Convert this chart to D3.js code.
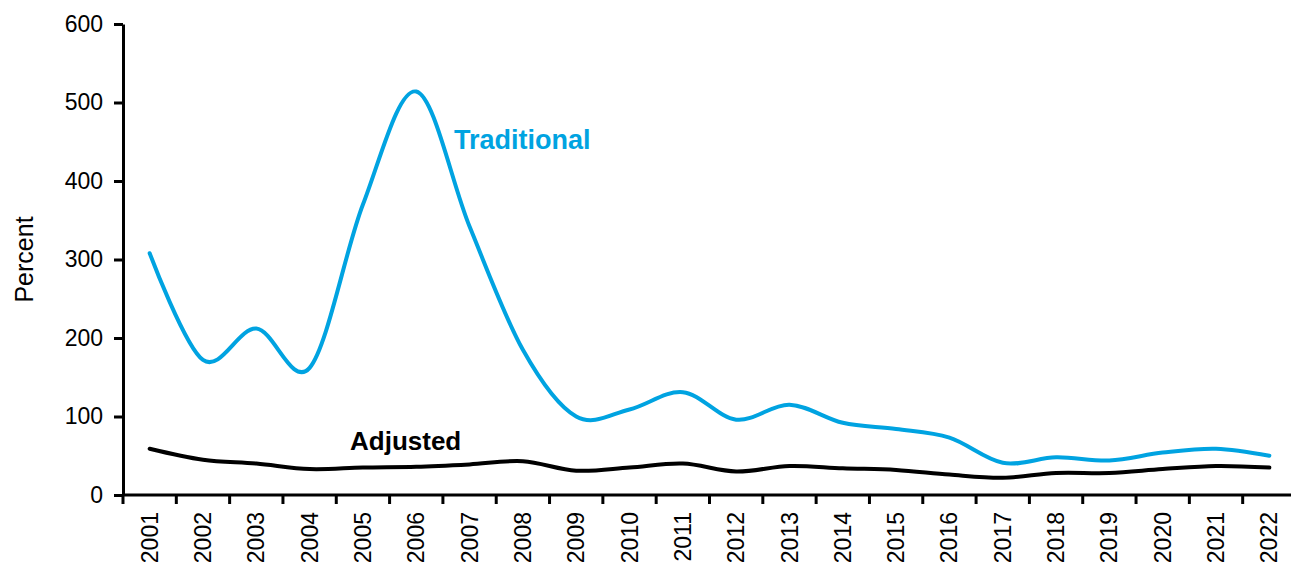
<!DOCTYPE html>
<html>
<head>
<meta charset="utf-8">
<script src="https://cdn.jsdelivr.net/npm/d3@7"></script>
<style>
  html, body { margin: 0; padding: 0; background: #fff; }
  svg { display: block; font-family: "Liberation Sans", Arial, sans-serif; }
</style>
</head>
<body>
<svg id="chart" width="1291" height="562"></svg>
<script>
const years = ["2001","2002","2003","2004","2005","2006","2007","2008","2009","2010","2011",
               "2012","2013","2014","2015","2016","2017","2018","2019","2020","2021","2022"];
const traditional = [308,172,212,162,370,514,342,185,100,109,131,96,115,92,84,73,41,48,44,54,59,50];
const adjusted    = [59,45,40,33,35,36,39,43,31,35,40,30,37,34,32,26,22,28,28,33,37,35];
const yTicks = [0,100,200,300,400,500,600];

(function () {
const svg = d3.select("#chart");
const mLeft = 123, mRight = 1296, mTop = 24, mBottom = 495;

const x = d3.scaleBand().domain(years).range([mLeft, mRight]).padding(0);
const y = d3.scaleLinear().domain([0, 600]).range([mBottom, mTop]);
const cx = d => x(d) + x.bandwidth() / 2;

// Lines
const line = d3.line()
  .x((d, i) => cx(years[i]))
  .y(d => y(d))
  .curve(d3.curveCatmullRom.alpha(0));

svg.append("path").datum(adjusted)
  .attr("fill", "none").attr("stroke", "#000").attr("stroke-width", 4)
  .attr("stroke-linecap", "round")
  .attr("d", line);

svg.append("path").datum(traditional)
  .attr("fill", "none").attr("stroke", "#00A3E1").attr("stroke-width", 4)
  .attr("stroke-linecap", "round")
  .attr("d", line);

// Y axis
const yAxis = d3.axisLeft(y).tickValues(yTicks).tickSize(9).tickPadding(11).tickSizeOuter(0);
const gy = svg.append("g").attr("transform", `translate(${mLeft},0)`).call(yAxis);
gy.select(".domain").attr("stroke", "#000").attr("stroke-width", 3);
gy.selectAll(".tick line").attr("stroke", "#000").attr("stroke-width", 3);
gy.selectAll(".tick text").attr("font-size", 23).attr("fill", "#000")
  .attr("font-family", "'Liberation Sans', Arial, sans-serif");

// X axis line
svg.append("line")
  .attr("x1", mLeft).attr("x2", mRight)
  .attr("y1", mBottom).attr("y2", mBottom)
  .attr("stroke", "#000").attr("stroke-width", 3);

// X ticks between categories
const boundaries = years.map(d => x(d)).concat([x(years[years.length - 1]) + x.bandwidth()]);
svg.append("g").selectAll("line").data(boundaries).join("line")
  .attr("x1", d => d).attr("x2", d => d)
  .attr("y1", mBottom).attr("y2", mBottom + 9)
  .attr("stroke", "#000").attr("stroke-width", 3);

// X labels rotated
svg.append("g").selectAll("text").data(years).join("text")
  .attr("transform", d => `translate(${cx(d)},${mBottom + 17}) rotate(-90)`)
  .attr("text-anchor", "end")
  .attr("dy", "0.35em")
  .attr("font-size", 23)
  .attr("fill", "#000")
  .text(d => d);

// Y axis title
svg.append("text")
  .attr("transform", `translate(24,${(mTop + mBottom) / 2}) rotate(-90)`)
  .attr("text-anchor", "middle")
  .attr("dy", "0.35em")
  .attr("font-size", 25)
  .attr("fill", "#000")
  .text("Percent");

// Series labels
svg.append("text")
  .attr("x", 454).attr("y", 149)
  .attr("font-size", 27).attr("font-weight", "bold")
  .attr("fill", "#00A3E1")
  .text("Traditional");

svg.append("text")
  .attr("x", 350).attr("y", 450)
  .attr("font-size", 26).attr("font-weight", "bold")
  .attr("fill", "#000")
  .text("Adjusted");
})();
</script>
</body>
</html>
